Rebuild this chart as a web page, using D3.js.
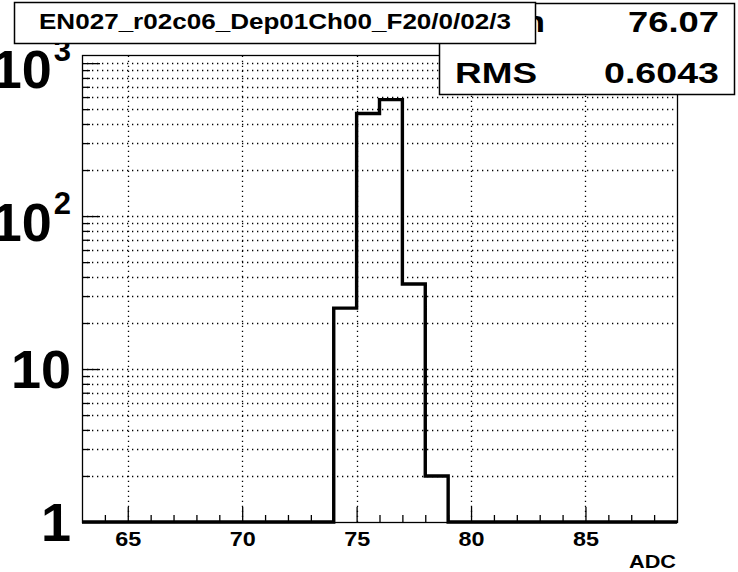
<!DOCTYPE html>
<html>
<head>
<meta charset="utf-8">
<script src="https://cdn.jsdelivr.net/npm/d3@7"></script>
<style>
  body { margin: 0; background: #fff; }
  svg text { font-family: "Liberation Sans", Arial, Helvetica, sans-serif; font-weight: bold; fill: #000; }
</style>
</head>
<body>
<div id="chart"></div>
<script>
// histogram: one count per 1-ADC bin, starting at binStart
const binStart = 63
const counts = [0, 0, 0, 0, 0, 0, 0, 0, 0, 0, 0, 25, 468, 577, 36, 2, 0, 0, 0, 0, 0, 0, 0, 0, 0, 0]
const xMajorTicks = [65, 70, 75, 80, 85]
const yDecades = [1, 10, 100, 1000]
const yDecadeLabels = [['1', ''], ['10', ''], ['10', '2'], ['10', '3']]
const titleText = 'EN027_r02c06_Dep01Ch00_F20/0/02/3'
const statNames = ['Mean', 'RMS']
const statValues = ['76.07', '0.6043']

const W = 738
const H = 572
const frame = { left: 82, right: 677, top: 55, bottom: 522 }
const yMin = 1
const yMax = 1130

const svg = d3.select('#chart').append('svg')
  .attr('width', W)
  .attr('height', H)

const x = d3.scaleLinear()
  .domain([binStart, binStart + counts.length])
  .range([frame.left, frame.right])

const y = d3.scaleLog()
  .domain([yMin, yMax])
  .range([frame.bottom, frame.top])

// all log ticks (1..9, 10..90, 100..900, 1000)
const yAllTicks = []
yDecades.forEach(function (d) {
  for (let k = 1; k <= 9; k++) {
    if (d * k <= yMax) yAllTicks.push(d * k)
  }
})
const yMinorTicks = yAllTicks.filter(v => yDecades.indexOf(v) < 0)
const xMinorTicks = d3.range(binStart + 1, binStart + counts.length).filter(v => xMajorTicks.indexOf(v) < 0)

/* ---------- grid ---------- */

const grid = svg.append('g')
  .attr('stroke', '#000')
  .attr('stroke-width', 1.3)
  .attr('stroke-dasharray', '1.3,3.7')

grid.selectAll('line.gy')
  .data(yAllTicks.filter(v => v > yMin))
  .enter().append('line')
  .attr('x1', frame.left)
  .attr('x2', frame.right)
  .attr('y1', d => Math.round(y(d)) + 0.5)
  .attr('y2', d => Math.round(y(d)) + 0.5)

grid.selectAll('line.gx')
  .data(xMajorTicks)
  .enter().append('line')
  .attr('x1', d => Math.round(x(d)) + 0.5)
  .attr('x2', d => Math.round(x(d)) + 0.5)
  .attr('y1', frame.bottom)
  .attr('y2', frame.top)

/* ---------- axes (ticks inside the frame) ---------- */

function styleAxis (g) {
  g.select('.domain').remove()
  g.selectAll('line').attr('stroke', '#000').attr('stroke-width', 1.3)
}

svg.append('g')
  .attr('transform', 'translate(0,' + frame.bottom + ')')
  .call(d3.axisBottom(x).tickValues(xMinorTicks).tickSize(-7).tickFormat(''))
  .call(styleAxis)

const xMajor = svg.append('g')
  .attr('transform', 'translate(0,' + frame.bottom + ')')
  .call(d3.axisBottom(x).tickValues(xMajorTicks).tickSize(-15).tickPadding(24))
  .call(styleAxis)

xMajor.selectAll('text')
  .attr('font-size', 21)
  .attr('textLength', 26)
  .attr('lengthAdjust', 'spacingAndGlyphs')
  .attr('dy', null)
  .attr('y', 24)

svg.append('g')
  .attr('transform', 'translate(' + frame.left + ',0)')
  .call(d3.axisLeft(y).tickValues(yMinorTicks).tickSize(-8).tickFormat(''))
  .call(styleAxis)

svg.append('g')
  .attr('transform', 'translate(' + frame.left + ',0)')
  .call(d3.axisLeft(y).tickValues(yDecades).tickSize(-18).tickFormat(''))
  .call(styleAxis)

// y decade labels with superscript exponents
const yLab = svg.append('g').selectAll('text')
  .data(yDecades)
  .enter().append('text')
  .attr('x', 71)
  .attr('y', (d, i) => y(d) + (yDecadeLabels[i][1] ? 25 : 19))
  .attr('text-anchor', 'end')
  .attr('font-size', 54)

yLab.append('tspan').text((d, i) => yDecadeLabels[i][0])
yLab.append('tspan')
  .attr('font-size', 31)
  .attr('dy', -27)
  .attr('dx', 2)
  .text((d, i) => yDecadeLabels[i][1])

svg.append('text')
  .attr('x', frame.right - 1)
  .attr('y', 568)
  .attr('text-anchor', 'end')
  .attr('font-size', 18)
  .attr('textLength', 47)
  .attr('lengthAdjust', 'spacingAndGlyphs')
  .text('ADC')

/* ---------- frame ---------- */

svg.append('rect')
  .attr('x', frame.left + 0.5)
  .attr('y', frame.top + 0.5)
  .attr('width', frame.right - frame.left)
  .attr('height', frame.bottom - frame.top)
  .attr('fill', 'none')
  .attr('stroke', '#000')
  .attr('stroke-width', 1.3)

/* ---------- histogram outline ---------- */

const pts = counts.map((c, i) => [binStart + i, Math.max(c, yMin)])
pts.push([binStart + counts.length, yMin])

svg.append('path')
  .datum(pts)
  .attr('d', d3.line().x(d => x(d[0])).y(d => y(d[1])).curve(d3.curveStepAfter))
  .attr('fill', 'none')
  .attr('stroke', '#000')
  .attr('stroke-width', 3.4)
  .attr('stroke-linejoin', 'miter')

/* ---------- stats box ---------- */

svg.append('rect')
  .attr('x', 439.5)
  .attr('y', 3.5)
  .attr('width', 295)
  .attr('height', 91)
  .attr('fill', '#fff')
  .attr('stroke', '#000')
  .attr('stroke-width', 1.5)

const statRowBase = [32, 83]
const statNameLen = [90, 82]
const statValLen = [91, 115]

statNames.forEach(function (n, i) {
  svg.append('text')
    .attr('x', 455)
    .attr('y', statRowBase[i])
    .attr('font-size', 30)
    .attr('textLength', statNameLen[i])
    .attr('lengthAdjust', 'spacingAndGlyphs')
    .text(n)
  svg.append('text')
    .attr('x', 719)
    .attr('y', statRowBase[i])
    .attr('text-anchor', 'end')
    .attr('font-size', 30)
    .attr('textLength', statValLen[i])
    .attr('lengthAdjust', 'spacingAndGlyphs')
    .text(statValues[i])
})

/* ---------- title box ---------- */

svg.append('rect')
  .attr('x', 14.5)
  .attr('y', 2.5)
  .attr('width', 521)
  .attr('height', 41)
  .attr('fill', '#fff')
  .attr('stroke', '#000')
  .attr('stroke-width', 1.5)

svg.append('text')
  .attr('x', 275)
  .attr('y', 29)
  .attr('text-anchor', 'middle')
  .attr('font-size', 22)
  .attr('textLength', 472)
  .attr('lengthAdjust', 'spacingAndGlyphs')
  .text(titleText)
</script>
</body>
</html>
